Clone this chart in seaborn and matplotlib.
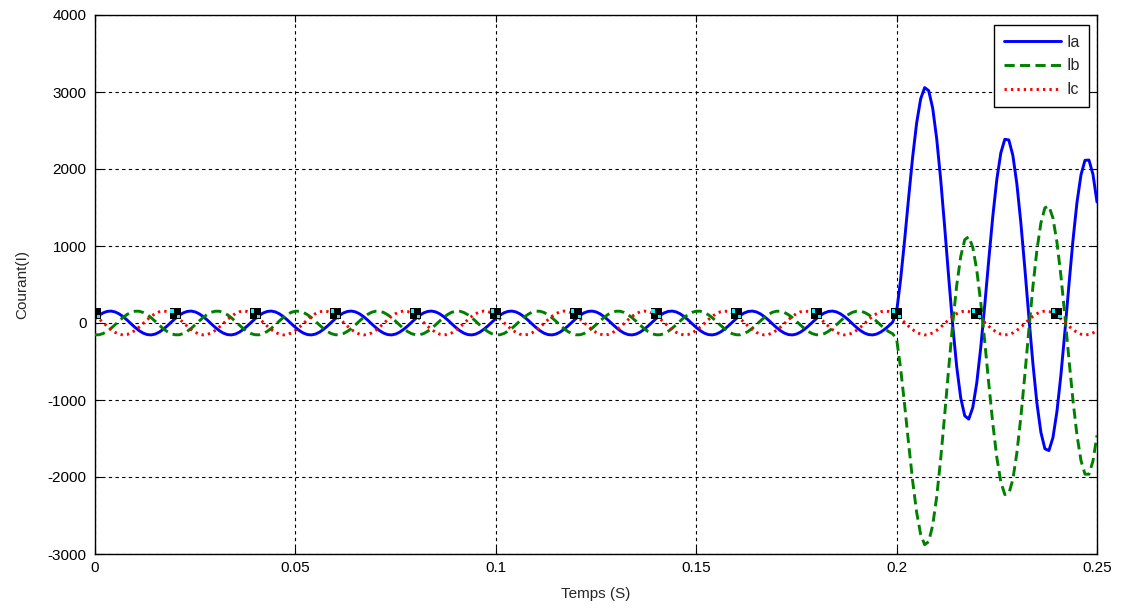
import numpy as np
import pandas as pd
import matplotlib
matplotlib.use("Agg")
import matplotlib.pyplot as plt
from matplotlib.path import Path
from matplotlib.markers import MarkerStyle
import seaborn as sns

# Steady-state (pre-fault) cycle, one value per millisecond (50 Hz -> 20 samples)
ia_cycle = [57, 99, 131, 150, 155, 144, 119, 83, 39, -10,
            -57, -99, -131, -150, -155, -144, -119, -83, -39, 10]
ib_cycle = [-153, -153, -137, -108, -69, -23, 26, 72, 111, 139,
            153, 153, 137, 108, 69, 23, -26, -72, -111, -139]
ic_cycle = [96, 54, 7, -42, -86, -121, -145, -155, -149, -129,
            -96, -54, -7, 42, 86, 121, 145, 155, 149, 129]

# Fault currents from t = 0.200 s to t = 0.250 s, one value per millisecond
ia_fault = [143, 564, 1077, 1626, 2153, 2597, 2910, 3057, 3018, 2792,
            2395, 1863, 1243, 592, -32, -570, -973, -1205, -1248, -1099,
            -777, -316, 236, 823, 1384, 1862, 2208, 2386, 2377, 2178,
            1809, 1302, 707, 79, -522, -1038, -1420, -1633, -1657, -1490,
            -1151, -673, -106, 496, 1072, 1564, 1923, 2113, 2116, 1929, 1570]
ib_fault = [-205, -590, -1061, -1567, -2050, -2458, -2745, -2879, -2840, -2629,
            -2260, -1766, -1191, -586, -9, 490, 864, 1081, 1121, 985,
            688, 264, -245, -787, -1304, -1745, -2063, -2228, -2217, -2033,
            -1690, -1222, -671, -89, 467, 944, 1298, 1496, 1518, 1365,
            1051, 611, 87, -469, -1001, -1455, -1786, -1963, -1964, -1791, -1459]

# Sample markers along the traces
marker_t = [0.0, 0.02, 0.04, 0.06, 0.08, 0.10, 0.12, 0.14, 0.16, 0.18, 0.20, 0.22, 0.24]
marker_v = [120, 120, 120, 120, 120, 120, 120, 120, 120, 120, 120, 120, 120]

x_ticks = [0, 0.05, 0.1, 0.15, 0.2, 0.25]
x_labels = ["0", "0.05", "0.1", "0.15", "0.2", "0.25"]
y_ticks = [-3000, -2000, -1000, 0, 1000, 2000, 3000, 4000]
y_labels = ["-3000", "-2000", "-1000", "0", "1000", "2000", "3000", "4000"]

n_pre_cycles = 10
t = np.round(np.arange(251) * 0.001, 3)
ia = np.concatenate([np.tile(ia_cycle, n_pre_cycles), ia_fault])
ib = np.concatenate([np.tile(ib_cycle, n_pre_cycles), ib_fault])
ic = np.resize(np.array(ic_cycle), t.size)

df = pd.DataFrame({"Temps": t, "Ia": ia, "Ib": ib, "Ic": ic})

sns.set_theme(style="white", rc={
    "xtick.direction": "in", "ytick.direction": "in",
    "xtick.top": True, "ytick.right": True,
    "xtick.bottom": True, "ytick.left": True,
    "xtick.major.size": 5, "ytick.major.size": 5,
    "xtick.major.width": 0.8, "ytick.major.width": 0.8,
    "xtick.color": "black", "ytick.color": "black",
    "axes.edgecolor": "black", "axes.linewidth": 1.0,
})
plt.rcParams["font.family"] = ["Liberation Sans", "DejaVu Sans"]

fig = plt.figure(figsize=(11.21, 6.08), dpi=100)
ax = fig.add_axes([95 / 1121, 1 - 554 / 608, 1002 / 1121, 539 / 608])

sns.lineplot(data=df, x="Temps", y="Ia", ax=ax, color=(0, 0, 1), linewidth=2.1,
             label="Ia", zorder=3)
sns.lineplot(data=df, x="Temps", y="Ib", ax=ax, color=(0, 0.5, 0), linewidth=2.1,
             linestyle=(0, (3.5, 1.8)), label="Ib", zorder=3)
sns.lineplot(data=df, x="Temps", y="Ic", ax=ax, color=(1, 0, 0), linewidth=2.1,
             linestyle=(0, (0.8, 1.4)), label="Ic", zorder=3)

# Square sample markers with small cyan dots
def _dot_path():
    verts, codes = [], []
    for cx, cy in [(-0.28, 0.25), (0.28, -0.25)]:
        s = 0.14
        verts += [(cx - s, cy - s), (cx + s, cy - s), (cx + s, cy + s),
                  (cx - s, cy + s), (cx - s, cy - s)]
        codes += [Path.MOVETO, Path.LINETO, Path.LINETO, Path.LINETO, Path.CLOSEPOLY]
    verts += [(-0.5, -0.5), (-0.5, -0.5)]
    codes += [Path.MOVETO, Path.MOVETO]
    verts += [(0.5, 0.5), (0.5, 0.5)]
    codes += [Path.MOVETO, Path.MOVETO]
    return Path(verts, codes)

sns.scatterplot(x=marker_t, y=marker_v, ax=ax, marker="s", s=64, color="black",
                edgecolor="none", linewidth=0, zorder=5)
sns.scatterplot(x=marker_t, y=marker_v, ax=ax, marker=MarkerStyle(_dot_path()), s=64,
                color="cyan", edgecolor="none", linewidth=0, zorder=6)

ax.set_xlim(0, 0.25)
ax.set_ylim(-3000, 4000)
ax.set_xticks(x_ticks)
ax.set_xticklabels(x_labels)
ax.set_yticks(y_ticks)
ax.set_yticklabels(y_labels)
ax.tick_params(axis="both", labelsize=11, colors="black")
ax.tick_params(axis="y", pad=6)
ax.tick_params(axis="x", pad=5)
ax.grid(True, color="black", linestyle=(0, (3, 3)), linewidth=0.8)
ax.set_axisbelow(True)
for sp in ax.spines.values():
    sp.set_visible(True)
    sp.set_color("black")

ax.set_xlabel("Temps (S)", fontsize=11, labelpad=9)
ax.set_ylabel("Courant(I)", fontsize=11, labelpad=13)

leg = ax.legend(loc="upper right", bbox_to_anchor=(0.992, 0.9814), borderaxespad=0,
                fontsize=11.5, frameon=True, fancybox=False, edgecolor="black",
                framealpha=1, handlelength=3.6, handletextpad=0.3,
                labelspacing=0.55, borderpad=0.6)
leg.get_frame().set_linewidth(1.0)

fig.savefig("out.png", dpi=100, facecolor="white")
